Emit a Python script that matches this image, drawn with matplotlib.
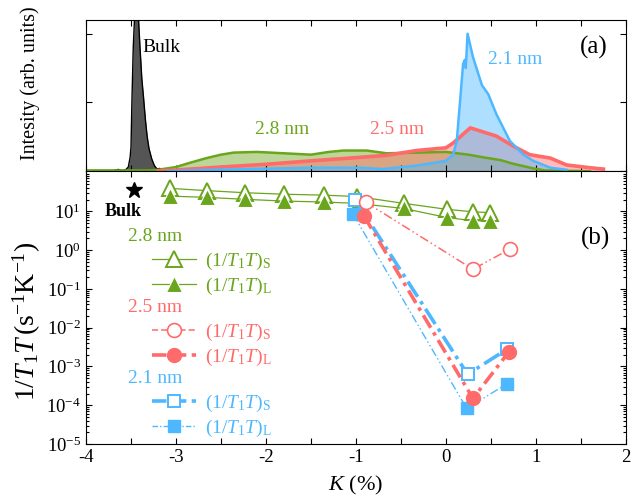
import matplotlib
matplotlib.use('Agg')
import matplotlib.pyplot as plt
from matplotlib.lines import Line2D
from matplotlib.text import Text
from matplotlib.legend_handler import HandlerBase
from matplotlib.ticker import MultipleLocator, LogLocator, NullFormatter

plt.rcParams['font.family'] = ['Liberation Serif', 'DejaVu Serif']
plt.rcParams['mathtext.fontset'] = 'custom'
plt.rcParams['mathtext.rm'] = 'Liberation Serif'
plt.rcParams['mathtext.it'] = 'Liberation Serif:italic'
plt.rcParams['mathtext.bf'] = 'Liberation Serif:bold'
plt.rcParams['axes.unicode_minus'] = False

GREEN = '#6aa61c'
RED = '#ff6b6b'
BLUE = '#4db8ff'

# (a) spectra, K (%) vs intensity
bulk_k = [-4.0, -3.7, -3.64, -3.6, -3.56, -3.53, -3.51, -3.50, -3.49, -3.475, -3.455, -3.437,
          -3.42, -3.40, -3.38, -3.36, -3.34, -3.32, -3.30, -3.27, -3.24, -3.21, -3.18, -3.15,
          -3.12, -3.09, -3.05]
bulk_v = [0.01, 0.01, 0.025, 0.01, 0.02, 0.06, 0.2, 0.35, 1.0, 1.8, 2.4, 2.7,
          2.3, 1.8, 1.35, 1.06, 0.75, 0.5, 0.33, 0.18, 0.08, 0.03, 0.04, 0.015,
          0.03, 0.01, 0.0]

g28_k = [-4.0, -3.3, -3.2, -3.0, -2.85, -2.66, -2.5, -2.36, -2.1, -1.8, -1.5, -1.3, -1.14,
         -0.88, -0.66, -0.3, 0.0, 0.25, 0.42, 0.61, 0.74, 0.97, 1.1, 1.6]
g28_v = [0.01, 0.01, 0.02, 0.06, 0.12, 0.19, 0.24, 0.27, 0.28, 0.26, 0.24, 0.28, 0.30,
         0.30, 0.26, 0.27, 0.28, 0.24, 0.2, 0.16, 0.11, 0.04, 0.01, 0.0]

r25_k = [-3.2, -2.96, -2.5, -2.0, -1.5, -1.07, -0.66, -0.33, 0.0, 0.08, 0.27, 0.56, 0.74,
         0.93, 1.16, 1.34, 1.6, 1.75]
r25_v = [0.0, 0.02, 0.06, 0.1, 0.15, 0.19, 0.23, 0.30, 0.34, 0.41, 0.63, 0.51, 0.37,
         0.24, 0.19, 0.09, 0.05, 0.03]

b21_k = [-3.1, -2.6, -2.21, -1.48, -0.96, -0.7, -0.33, 0.0, 0.08, 0.12, 0.16, 0.19, 0.21,
         0.22, 0.24, 0.30, 0.40, 0.47, 0.56, 0.71, 0.86, 0.97, 1.16, 1.34]
b21_v = [0.0, 0.02, 0.03, 0.05, 0.05, 0.03, 0.08, 0.15, 0.24, 0.44, 1.07, 1.56, 1.62,
         1.5, 2.0, 1.66, 1.25, 1.12, 0.83, 0.44, 0.24, 0.15, 0.05, 0.02]

# (b) 1/T1T
green_k = [-3.07, -2.66, -2.23, -1.80, -1.36, -0.99, -0.47, 0.01, 0.30, 0.49]
green_s = [39, 34, 30, 27.5, 26, 24, 16, 11.2, 9.7, 9.2]
green_l = [24.6, 22.8, 20.3, 18.3, 17.3, 16, 11.8, 6.9, 5.7, 5.7]

red_k_s = [-0.89, 0.30, 0.71]
red_s = [17, 0.32, 1.06]
red_k_l = [-0.91, 0.30, 0.70]
red_l = [7.5, 1.5e-4, 2.4e-3]

blue_k_s = [-1.01, 0.24, 0.68]
blue_s = [20, 6.3e-4, 2.8e-3]
blue_k_l = [-1.03, 0.23, 0.68]
blue_l = [8.3, 8.3e-5, 3.6e-4]

bulk_pt_k = [-3.47]
bulk_pt = [35]

y_major = [1e-5, 1e-4, 1e-3, 1e-2, 1e-1, 1e0, 1e1]


class Header(object):
    def __init__(self, text, color):
        self.text = text
        self.color = color


class HeaderHandler(HandlerBase):
    def create_artists(self, legend, orig_handle, xdescent, ydescent, width, height, fontsize, trans):
        t = Text(-xdescent - 17, -ydescent + height / 2, orig_handle.text, color=orig_handle.color,
                 fontsize=fontsize, va='center', ha='left', transform=trans)
        return [t]


fig = plt.figure(figsize=(6.31, 4.99), dpi=100)
ax1 = fig.add_axes([0.1363, 0.657, 0.8557, 0.303])
ax2 = fig.add_axes([0.1363, 0.110, 0.8557, 0.547])

# ---- top panel
ax1.fill_between(bulk_k, bulk_v, color='#555555', alpha=1.0, lw=0)
ax1.plot(bulk_k, bulk_v, color='black', lw=1.0)
ax1.fill_between(g28_k, g28_v, color=GREEN, alpha=0.45, lw=0)
ax1.plot(g28_k, g28_v, color=GREEN, lw=1.8)
ax1.fill_between(r25_k, r25_v, color=RED, alpha=0.45, lw=0)
ax1.plot(r25_k, r25_v, color=RED, lw=2.6)
ax1.fill_between(b21_k, b21_v, color=BLUE, alpha=0.45, lw=0)
ax1.plot(b21_k, b21_v, color=BLUE, lw=1.8)

ax1.text(-3.37, 1.8, 'Bulk', fontsize=14, ha='left', va='center', color='black')
ax1.text(-1.82, 0.6, '2.8 nm', fontsize=14, ha='center', va='center', color=GREEN)
ax1.text(-0.54, 0.6, '2.5 nm', fontsize=14, ha='center', va='center', color=RED)
ax1.text(0.77, 1.62, '2.1 nm', fontsize=14, ha='center', va='center', color=BLUE)
ax1.text(1.64, 1.8, '(a)', fontsize=18, ha='center', va='center')

ax1.set_xlim(-4, 2)
ax1.set_ylim(0, 2.2)
ax1.set_yticks([0, 1, 2])
ax1.yaxis.set_major_formatter(NullFormatter())
ax1.xaxis.set_major_locator(MultipleLocator(0.5))
ax1.xaxis.set_major_formatter(NullFormatter())
ax1.tick_params(direction='in', top=True, right=True, length=4, width=0.8)
ax1.set_ylabel('Intesity (arb. units)', fontsize=14.5)
ax1.yaxis.set_label_coords(-0.085, 0.58)

# ---- bottom panel
ax2.plot(green_k, green_s, '-', color=GREEN, lw=0.9, marker='^', ms=12, mfc='white',
         mec=GREEN, mew=1.4)
ax2.plot(green_k, green_l, '-', color=GREEN, lw=0.9, marker='^', ms=12, mfc=GREEN,
         mec='white', mew=0.8)
ax2.plot(blue_k_l, blue_l, color=BLUE, lw=1.0, ls=(0, (6, 2, 1, 2, 1, 2)), marker='s', ms=9,
         mfc=BLUE, mec=BLUE)
ax2.plot(blue_k_s, blue_s, color=BLUE, lw=2.6, ls=(0, (5, 1.5, 1, 1.5)), marker='s', ms=9,
         mfc='white', mec=BLUE, mew=1.4)
ax2.plot(red_k_s, red_s, color=RED, lw=1.1, ls=(0, (6, 2, 1, 2, 1, 2)), marker='o', ms=10,
         mfc='white', mec=RED, mew=1.2)
ax2.plot(red_k_l, red_l, color=RED, lw=2.6, ls=(0, (4, 1.5, 1, 1.5)), marker='o', ms=10,
         mfc=RED, mec=RED)
ax2.plot(bulk_pt_k, bulk_pt, '*', color='black', ms=12)
ax2.text(-3.59, 9.8, 'Bulk', fontsize=13, fontweight='bold', ha='center', va='center')
ax2.text(1.66, 2.0, '(b)', fontsize=18, ha='center', va='center')

ax2.set_yscale('log')
ax2.set_xlim(-4, 2)
ax2.set_ylim(1e-5, 108)
ax2.set_yticks(y_major)
ax2.xaxis.set_major_locator(MultipleLocator(1))
ax2.xaxis.set_minor_locator(MultipleLocator(0.5))
ax2.yaxis.set_minor_locator(LogLocator(base=10, subs=range(2, 10), numticks=12))
ax2.yaxis.set_minor_formatter(NullFormatter())
ax2.tick_params(which='both', direction='in', top=True, right=True, labelsize=13.5, width=0.8)
ax2.tick_params(which='major', length=4)
ax2.tick_params(which='minor', length=2.5)
ax2.tick_params(axis='x', which='minor', length=4)
ax2.set_xlabel(r'$K$ (%)', fontsize=16, labelpad=6)
ax2.set_ylabel(r'$1/T_1T\,(\mathrm{s}^{-1}\mathrm{K}^{-1})$', fontsize=20)
ax2.yaxis.set_label_coords(-0.08, 0.45)

# legend built from the same line styles
handles = [
    Header('2.8 nm', GREEN),
    Line2D([], [], color=GREEN, lw=0.9, marker='^', ms=12, mfc='white', mec=GREEN, mew=1.4),
    Line2D([], [], color=GREEN, lw=0.9, marker='^', ms=12, mfc=GREEN, mec='white', mew=0.8),
    Header('2.5 nm', RED),
    Line2D([], [], color=RED, lw=1.1, ls=(0, (4, 2)), marker='o', ms=10, mfc='white', mec=RED, mew=1.2),
    Line2D([], [], color=RED, lw=2.6, ls=(0, (4, 1.5)), marker='o', ms=10, mfc=RED, mec=RED),
    Header('2.1 nm', BLUE),
    Line2D([], [], color=BLUE, lw=2.6, ls=(0, (4, 1.5)), marker='s', ms=9, mfc='white', mec=BLUE, mew=1.4),
    Line2D([], [], color=BLUE, lw=1.0, ls=(0, (4, 1.5, 1, 1.5)), marker='s', ms=9, mfc=BLUE, mec=BLUE),
]
s_lab = r'$(1/T_1T)_\mathrm{S}$'
l_lab = r'$(1/T_1T)_\mathrm{L}$'
labels = ['', s_lab, l_lab, '', s_lab, l_lab, '', s_lab, l_lab]
colors = [GREEN, GREEN, GREEN, RED, RED, RED, BLUE, BLUE, BLUE]
leg = ax2.legend(handles, labels, loc='upper left', bbox_to_anchor=(0.1217, 0.786),
                 frameon=False, fontsize=14, handlelength=2.3, handletextpad=0.45,
                 labelspacing=0.19, borderpad=0, borderaxespad=0, numpoints=1,
                 handler_map={Header: HeaderHandler()})
for txt, c in zip(leg.get_texts(), colors):
    txt.set_color(c)

fig.savefig('out.png', dpi=100)
